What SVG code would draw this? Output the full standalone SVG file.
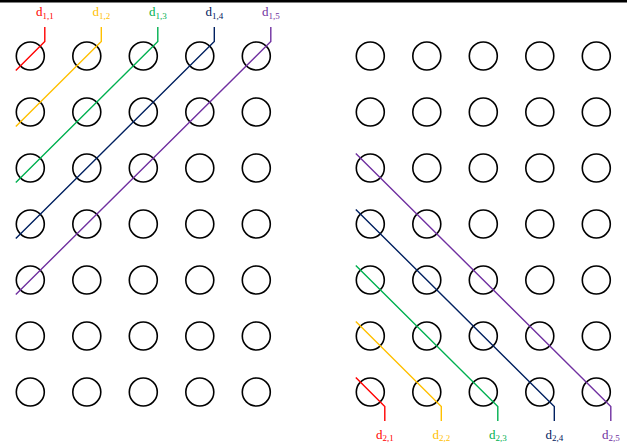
<svg xmlns="http://www.w3.org/2000/svg" width="627" height="447" viewBox="0 0 627 447">
<style>
.c{fill:none;stroke:#000;stroke-width:1.6}
.l{fill:none;stroke-width:1.4;stroke-linejoin:miter}
.t{font-family:"Liberation Serif","Times New Roman",serif;font-size:13px;text-anchor:middle}
.s{font-size:9px}
.r{stroke:#FF0000}.y{stroke:#FFC000}.g{stroke:#00B050}.n{stroke:#002060}.p{stroke:#7030A0}
.tr{fill:#FF0000}.ty{fill:#FFC000}.tg{fill:#00B050}.tn{fill:#002060}.tp{fill:#7030A0}
</style>
<rect x="0" y="0" width="627" height="2.5" fill="#000"/>
<g id="grid-left">
<g id="L-r1"><circle class="c" cx="30.3" cy="56" r="14"/><circle class="c" cx="86.8" cy="56" r="14"/><circle class="c" cx="143.3" cy="56" r="14"/><circle class="c" cx="199.8" cy="56" r="14"/><circle class="c" cx="256.3" cy="56" r="14"/></g>
<g id="L-r2"><circle class="c" cx="30.3" cy="112" r="14"/><circle class="c" cx="86.8" cy="112" r="14"/><circle class="c" cx="143.3" cy="112" r="14"/><circle class="c" cx="199.8" cy="112" r="14"/><circle class="c" cx="256.3" cy="112" r="14"/></g>
<g id="L-r3"><circle class="c" cx="30.3" cy="168" r="14"/><circle class="c" cx="86.8" cy="168" r="14"/><circle class="c" cx="143.3" cy="168" r="14"/><circle class="c" cx="199.8" cy="168" r="14"/><circle class="c" cx="256.3" cy="168" r="14"/></g>
<g id="L-r4"><circle class="c" cx="30.3" cy="224" r="14"/><circle class="c" cx="86.8" cy="224" r="14"/><circle class="c" cx="143.3" cy="224" r="14"/><circle class="c" cx="199.8" cy="224" r="14"/><circle class="c" cx="256.3" cy="224" r="14"/></g>
<g id="L-r5"><circle class="c" cx="30.3" cy="280" r="14"/><circle class="c" cx="86.8" cy="280" r="14"/><circle class="c" cx="143.3" cy="280" r="14"/><circle class="c" cx="199.8" cy="280" r="14"/><circle class="c" cx="256.3" cy="280" r="14"/></g>
<g id="L-r6"><circle class="c" cx="30.3" cy="336" r="14"/><circle class="c" cx="86.8" cy="336" r="14"/><circle class="c" cx="143.3" cy="336" r="14"/><circle class="c" cx="199.8" cy="336" r="14"/><circle class="c" cx="256.3" cy="336" r="14"/></g>
<g id="L-r7"><circle class="c" cx="30.3" cy="392" r="14"/><circle class="c" cx="86.8" cy="392" r="14"/><circle class="c" cx="143.3" cy="392" r="14"/><circle class="c" cx="199.8" cy="392" r="14"/><circle class="c" cx="256.3" cy="392" r="14"/></g>
</g>
<g id="grid-right">
<g id="R-r1"><circle class="c" cx="370.3" cy="56" r="14"/><circle class="c" cx="426.8" cy="56" r="14"/><circle class="c" cx="483.3" cy="56" r="14"/><circle class="c" cx="539.8" cy="56" r="14"/><circle class="c" cx="596.3" cy="56" r="14"/></g>
<g id="R-r2"><circle class="c" cx="370.3" cy="112" r="14"/><circle class="c" cx="426.8" cy="112" r="14"/><circle class="c" cx="483.3" cy="112" r="14"/><circle class="c" cx="539.8" cy="112" r="14"/><circle class="c" cx="596.3" cy="112" r="14"/></g>
<g id="R-r3"><circle class="c" cx="370.3" cy="168" r="14"/><circle class="c" cx="426.8" cy="168" r="14"/><circle class="c" cx="483.3" cy="168" r="14"/><circle class="c" cx="539.8" cy="168" r="14"/><circle class="c" cx="596.3" cy="168" r="14"/></g>
<g id="R-r4"><circle class="c" cx="370.3" cy="224" r="14"/><circle class="c" cx="426.8" cy="224" r="14"/><circle class="c" cx="483.3" cy="224" r="14"/><circle class="c" cx="539.8" cy="224" r="14"/><circle class="c" cx="596.3" cy="224" r="14"/></g>
<g id="R-r5"><circle class="c" cx="370.3" cy="280" r="14"/><circle class="c" cx="426.8" cy="280" r="14"/><circle class="c" cx="483.3" cy="280" r="14"/><circle class="c" cx="539.8" cy="280" r="14"/><circle class="c" cx="596.3" cy="280" r="14"/></g>
<g id="R-r6"><circle class="c" cx="370.3" cy="336" r="14"/><circle class="c" cx="426.8" cy="336" r="14"/><circle class="c" cx="483.3" cy="336" r="14"/><circle class="c" cx="539.8" cy="336" r="14"/><circle class="c" cx="596.3" cy="336" r="14"/></g>
<g id="R-r7"><circle class="c" cx="370.3" cy="392" r="14"/><circle class="c" cx="426.8" cy="392" r="14"/><circle class="c" cx="483.3" cy="392" r="14"/><circle class="c" cx="539.8" cy="392" r="14"/><circle class="c" cx="596.3" cy="392" r="14"/></g>
</g>
<g id="connectors">
<polyline class="l r" points="44.8,27 44.8,41.5 15.8,70.5"/>
<polyline class="l y" points="101.3,27 101.3,41.5 15.8,126.5"/>
<polyline class="l g" points="157.8,27 157.8,41.5 15.8,182.5"/>
<polyline class="l n" points="214.3,27 214.3,41.5 15.8,238.5"/>
<polyline class="l p" points="270.8,27 270.8,41.5 15.8,294.5"/>
<polyline class="l r" points="355.8,377.5 384.8,406.5 384.8,421"/>
<polyline class="l y" points="355.8,321.5 441.3,406.5 441.3,421"/>
<polyline class="l g" points="355.8,265.5 497.8,406.5 497.8,421"/>
<polyline class="l n" points="355.8,209.5 554.3,406.5 554.3,421"/>
<polyline class="l p" points="355.8,153.5 610.8,406.5 610.8,421"/>
</g>
<g id="labels-top">
<text class="t tr" x="44.8" y="16">d<tspan class="s" dy="2.5">1,1</tspan></text>
<text class="t ty" x="101.3" y="16">d<tspan class="s" dy="2.5">1,2</tspan></text>
<text class="t tg" x="157.8" y="16">d<tspan class="s" dy="2.5">1,3</tspan></text>
<text class="t tn" x="214.3" y="16">d<tspan class="s" dy="2.5">1,4</tspan></text>
<text class="t tp" x="270.8" y="16">d<tspan class="s" dy="2.5">1,5</tspan></text>
</g>
<g id="labels-bottom">
<text class="t tr" x="384.8" y="438.5">d<tspan class="s" dy="2.5">2,1</tspan></text>
<text class="t ty" x="441.3" y="438.5">d<tspan class="s" dy="2.5">2,2</tspan></text>
<text class="t tg" x="497.8" y="438.5">d<tspan class="s" dy="2.5">2,3</tspan></text>
<text class="t tn" x="554.3" y="438.5">d<tspan class="s" dy="2.5">2,4</tspan></text>
<text class="t tp" x="610.8" y="438.5">d<tspan class="s" dy="2.5">2,5</tspan></text>
</g>
</svg>
